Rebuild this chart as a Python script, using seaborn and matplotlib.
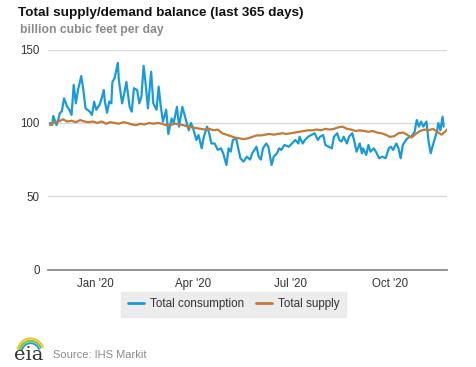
import numpy as np
import pandas as pd
import matplotlib
matplotlib.use("Agg")
import matplotlib.pyplot as plt
import matplotlib.dates as mdates
from matplotlib.lines import Line2D
import seaborn as sns

# --- data (billion cubic feet per day) ---
start_date = "2019-11-20"

cons_day = [0, 2, 3, 6, 8, 9, 11, 13, 16, 18, 20, 22, 24, 26, 29, 31, 33, 37, 39, 41,
            43, 46, 48, 50, 51, 53, 55, 57, 58, 60, 63, 64, 67, 69, 71, 74, 76, 78, 81, 83,
            85, 87, 89, 91, 94, 96, 99, 101, 103, 105, 108, 110, 113, 115, 118, 120, 123, 126, 129, 131,
            133, 136, 138, 141, 143, 146, 148, 150, 153, 156, 159, 161, 164, 166, 168, 170, 173, 175, 177, 180,
            183, 186, 188, 192, 194, 196, 198, 201, 203, 206, 208, 211, 213, 215, 218, 222, 225, 228, 231, 232,
            235, 237, 240, 243, 246, 249, 251, 254, 256, 259, 262, 264, 267, 269, 271, 273, 276, 278, 281, 283,
            285, 288, 290, 291, 294, 296, 298, 301, 303, 306, 309, 312, 315, 317, 319, 322, 324, 326, 328, 331,
            334, 336, 339, 341, 343, 345, 347, 350, 352, 354, 356, 360, 361, 363, 365, 366]
cons_val = [100.0, 98.6, 104.8, 98.6, 103.0, 106.6, 108.0, 116.8, 111.0, 109.0, 105.5, 126.0, 113.4, 122.5, 132.0, 122.5, 110.0, 107.7, 105.5, 114.5,
            109.0, 112.3, 116.8, 122.5, 114.5, 107.0, 114.5, 113.4, 128.0, 130.5, 141.0, 129.0, 113.4, 120.0, 128.0, 111.0, 107.7, 123.7, 122.5, 113.4,
            118.0, 139.0, 126.0, 110.0, 135.0, 113.4, 109.0, 124.8, 111.0, 101.0, 109.0, 92.5, 103.0, 100.0, 111.0, 97.5, 111.0, 103.0, 95.0, 100.0,
            96.5, 88.4, 91.8, 82.7, 90.6, 97.5, 93.0, 86.0, 86.0, 81.6, 82.7, 79.3, 71.3, 82.7, 80.4, 88.4, 89.5, 82.7, 75.9, 73.6,
            77.0, 75.0, 79.3, 83.8, 77.0, 75.0, 82.7, 86.0, 83.8, 71.3, 77.0, 79.3, 82.7, 81.6, 85.0, 83.8, 86.0, 88.4, 86.0, 90.6,
            86.0, 88.4, 90.6, 91.8, 93.0, 88.4, 90.6, 91.8, 85.0, 83.8, 82.7, 90.6, 93.0, 88.4, 87.3, 90.6, 86.0, 90.6, 93.0, 87.3,
            80.4, 86.0, 79.3, 82.7, 78.2, 85.0, 80.4, 82.7, 80.4, 75.9, 77.0, 75.9, 82.7, 83.8, 81.6, 86.0, 82.7, 75.9, 85.0, 88.4,
            90.6, 90.6, 94.0, 102.0, 97.5, 101.0, 97.5, 101.0, 87.3, 79.3, 85.0, 95.0, 100.0, 95.0, 104.3, 97.5]

supply_val = [98.5, 100.5, 101.0, 102.5, 101.0, 101.5, 100.5, 102.0, 101.0, 100.5,
              101.0, 100.0, 101.0, 99.5, 100.5, 100.0, 99.5, 100.5, 100.0, 99.0,
              98.5, 99.5, 99.0, 100.0, 99.5, 100.0, 99.5, 98.5, 98.5, 99.5,
              99.0, 98.5, 97.5, 97.0, 96.5, 96.0, 95.5, 96.0, 95.0, 95.5,
              93.0, 92.0, 91.0, 90.0, 89.5, 89.0, 89.5, 90.5, 91.5, 91.5,
              92.0, 92.5, 92.0, 92.5, 93.0, 92.5, 93.0, 93.5, 94.0, 94.5,
              95.0, 95.0, 95.5, 95.0, 96.0, 95.5, 96.0, 97.0, 97.5, 96.0,
              95.5, 94.5, 95.0, 94.5, 94.0, 94.5, 93.5, 93.0, 92.0, 90.5,
              91.0, 93.0, 93.5, 92.0, 90.0, 92.5, 94.5, 95.5, 95.0, 96.0,
              94.0, 92.0, 94.5, 98.0]

y_ticks = [0, 50, 100, 150]
month_ticks = ["2020-01-01", "2020-04-01", "2020-07-01", "2020-10-01"]

cons_color = "#1a9bd7"
supply_color = "#c27a34"

# --- frames ---
t0 = pd.Timestamp(start_date)
cons = pd.DataFrame({"date": t0 + pd.to_timedelta(cons_day, unit="D"), "value": cons_val})
supply = pd.DataFrame({"date": pd.date_range(t0, periods=len(supply_val), freq="4D"),
                       "value": supply_val})

sns.set_style("white")
plt.rcParams["font.family"] = ["Liberation Sans", "DejaVu Sans"]

fig = plt.figure(figsize=(4.77, 3.67), dpi=100)
ax = fig.add_axes([48 / 477, 1 - 269.5 / 367, 399 / 477, 219.8 / 367])

sns.lineplot(data=cons, x="date", y="value", color=cons_color, linewidth=1.6, ax=ax)
sns.lineplot(data=supply, x="date", y="value", color=supply_color, linewidth=1.6, ax=ax)

ax.set_ylim(0, 150)
ax.set_xlim(t0 - pd.Timedelta(days=1.9), t0 + pd.Timedelta(days=369.1))
ax.set_yticks(y_ticks)
ax.set_xticks(pd.to_datetime(month_ticks))
ax.xaxis.set_major_formatter(mdates.DateFormatter("%b '%y"))
ax.set_xlabel("")
ax.set_ylabel("")

ax.grid(axis="y", color="#d9d9d9", linewidth=1)
ax.grid(axis="x", visible=False)
for side in ["top", "right", "left"]:
    ax.spines[side].set_visible(False)
ax.spines["bottom"].set_color("#8c8c8c")
ax.spines["bottom"].set_linewidth(1.3)
ax.tick_params(axis="x", length=4, width=1, color="#8c8c8c", labelsize=8.3, labelcolor="#333333", pad=2)
ax.tick_params(axis="y", length=0, labelsize=8.3, labelcolor="#333333", pad=6)

# title + subtitle
fig.text(18 / 477, 1 - 13 / 367, "Total supply/demand balance (last 365 days)",
         fontsize=9.7, fontweight="bold", color="#111111", va="center", ha="left")
fig.text(20 / 477, 1 - 30 / 367, "billion cubic feet per day",
         fontsize=8.7, fontweight="bold", color="#8a8a8a", va="center", ha="left")

# legend
handles = [Line2D([0], [0], color=cons_color, lw=2),
           Line2D([0], [0], color=supply_color, lw=2)]
leg = fig.legend(handles, ["Total consumption", "Total supply"], ncol=2,
                 loc="center", bbox_to_anchor=(233.5 / 477, 1 - 304.5 / 367),
                 frameon=True, fontsize=8.4, handlelength=1.4, handletextpad=0.5,
                 columnspacing=1.0, borderpad=0.55, fancybox=False)
leg.get_frame().set_facecolor("#e8e8e8")
leg.get_frame().set_edgecolor("#e8e8e8")
for txt in leg.get_texts():
    txt.set_color("#333333")

# eia logo + source
logo = fig.add_axes([13 / 477, 1 - 352 / 367, 32 / 477, 16 / 367])
logo.set_xlim(0, 1)
logo.set_ylim(0, 1)
logo.axis("off")
th = np.linspace(0.15 * np.pi, 0.9 * np.pi, 40)
for r, c in [(0.95, "#f2c219"), (0.8, "#7dbf3c"), (0.65, "#1a9bd7")]:
    logo.plot(0.55 + 0.45 * r * np.cos(th), -0.1 + r * np.sin(th), color=c, lw=1.4)
fig.text(14 / 477, 1 - 355 / 367, "eia", fontsize=14, color="#333333",
         family="DejaVu Serif", va="center", ha="left")
fig.text(53 / 477, 1 - 355 / 367, "Source: IHS Markit", fontsize=8, color="#8a8a8a",
         va="center", ha="left")

fig.savefig("out.png", dpi=100)
